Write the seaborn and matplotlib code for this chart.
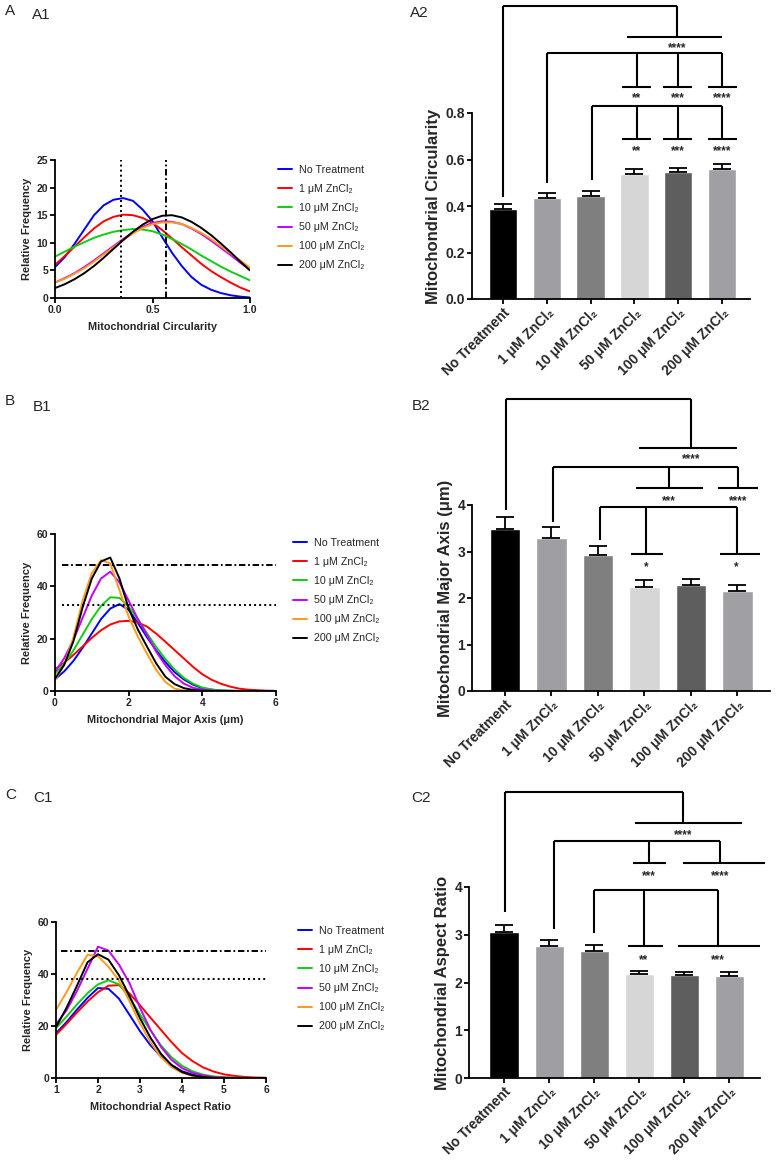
import numpy as np
import pandas as pd
import matplotlib
matplotlib.use("Agg")
import matplotlib.pyplot as plt
import matplotlib.ticker as mticker
import seaborn as sns

# ---------------- data ----------------
GROUPS = ["No Treatment", "1 μM ZnCl₂", "10 μM ZnCl₂", "50 μM ZnCl₂",
          "100 μM ZnCl₂", "200 μM ZnCl₂"]
LINE_COLORS = ["#0000ff", "#ff0000", "#11cc11", "#c400ff", "#ff9a1a", "#000000"]
BAR_COLORS = ["#000000", "#9f9fa3", "#7f7f7f", "#d6d6d6", "#5e5e5e", "#a0a0a4"]

# A1 - circularity distribution
circ_x = [0.0, 0.05, 0.1, 0.15, 0.2, 0.25, 0.3, 0.35, 0.4, 0.45, 0.5,
          0.55, 0.6, 0.65, 0.7, 0.75, 0.8, 0.85, 0.9, 0.95, 1.0]
circ_none = [5.6, 7.4, 9.8, 12.4, 15.0, 16.8, 17.8, 18.1, 17.6, 16.0, 13.9,
             11.0, 8.2, 5.8, 3.8, 2.4, 1.5, 0.9, 0.5, 0.25, 0.1]
circ_1 = [6.0, 7.6, 9.3, 11.0, 12.6, 13.9, 14.7, 15.1, 15.0, 14.5, 13.6,
          12.3, 10.8, 9.2, 7.7, 6.2, 4.9, 3.8, 2.8, 1.9, 1.2]
circ_10 = [7.5, 8.4, 9.3, 10.1, 10.9, 11.5, 12.0, 12.3, 12.5, 12.4, 12.1,
           11.5, 10.7, 9.8, 8.8, 7.7, 6.7, 5.7, 4.8, 4.0, 3.2]
circ_50 = [2.8, 3.6, 4.5, 5.6, 6.8, 8.1, 9.4, 10.7, 11.9, 12.9, 13.6,
           13.9, 13.8, 13.4, 12.6, 11.6, 10.4, 9.1, 7.8, 6.4, 5.1]
circ_100 = [2.8, 3.5, 4.4, 5.4, 6.6, 7.9, 9.2, 10.5, 11.7, 12.7, 13.4,
            13.7, 13.7, 13.4, 12.7, 11.8, 10.7, 9.4, 8.1, 6.8, 5.5]
circ_200 = [1.8, 2.5, 3.4, 4.5, 5.8, 7.3, 8.9, 10.5, 12.0, 13.3, 14.3,
            14.9, 15.0, 14.6, 13.8, 12.7, 11.4, 9.9, 8.3, 6.6, 5.0]

# B1 - major axis distribution
axis_x = [0.0, 0.25, 0.5, 0.75, 1.0, 1.25, 1.5, 1.75, 2.0, 2.25, 2.5, 2.75, 3.0,
          3.25, 3.5, 3.75, 4.0, 4.25, 4.5, 4.75, 5.0, 5.25, 5.5, 5.75, 6.0]
axis_none = [4.5, 7.5, 11.5, 16.5, 22.0, 27.5, 31.5, 33.2, 31.0, 26.0, 20.5, 15.5, 11.0,
             7.2, 4.4, 2.4, 1.1, 0.5, 0.2, 0.08, 0.03, 0, 0, 0, 0]
axis_1 = [8.3, 10.8, 13.8, 17.0, 20.3, 23.2, 25.4, 26.6, 26.8, 26.2, 24.6, 21.9, 18.8,
          15.6, 12.4, 9.2, 6.4, 4.3, 2.8, 1.7, 0.9, 0.5, 0.3, 0.12, 0.05]
axis_10 = [6.6, 10.5, 15.5, 21.5, 27.5, 32.5, 35.8, 35.6, 32.2, 27.5, 22.0, 16.8, 12.2,
           8.2, 5.0, 2.8, 1.3, 0.6, 0.2, 0.08, 0.03, 0, 0, 0, 0]
axis_50 = [7.3, 12.5, 19.5, 28.0, 36.5, 43.0, 45.6, 41.5, 34.5, 27.5, 21.3, 15.0, 9.8,
           5.6, 2.8, 1.2, 0.5, 0.2, 0.06, 0, 0, 0, 0, 0, 0]
axis_100 = [4.1, 10.0, 20.5, 34.5, 45.0, 50.0, 48.8, 38.5, 28.4, 20.8, 14.2, 8.0, 3.4,
            0.9, 0.2, 0.05, 0, 0, 0, 0, 0, 0, 0, 0, 0]
axis_200 = [4.7, 10.0, 19.0, 32.0, 43.0, 49.5, 51.0, 43.0, 31.5, 23.5, 16.9, 10.5, 5.4,
            2.6, 1.1, 0.4, 0.1, 0.03, 0, 0, 0, 0, 0, 0, 0]

# C1 - aspect ratio distribution
ar_x = [1.0, 1.25, 1.5, 1.75, 2.0, 2.25, 2.5, 2.75, 3.0, 3.25, 3.5,
        3.75, 4.0, 4.25, 4.5, 4.75, 5.0, 5.25, 5.5, 5.75, 6.0]
ar_none = [17.2, 21.5, 26.3, 30.8, 34.6, 34.3, 30.5, 24.3, 18.0, 12.6, 8.3,
           5.0, 2.6, 1.3, 0.5, 0.2, 0.08, 0.03, 0.01, 0, 0]
ar_1 = [16.6, 20.8, 25.2, 29.4, 33.0, 35.5, 35.7, 32.5, 28.0, 23.2, 18.5,
        13.8, 9.6, 6.5, 4.1, 2.5, 1.4, 0.8, 0.4, 0.2, 0.1]
ar_10 = [19.2, 23.6, 28.3, 32.6, 36.0, 37.6, 36.0, 31.0, 24.5, 18.3, 12.5,
         8.0, 4.7, 2.6, 1.3, 0.6, 0.25, 0.1, 0.04, 0.01, 0]
ar_50 = [20.7, 26.0, 33.5, 42.0, 50.5, 49.0, 43.6, 36.5, 27.0, 18.5, 12.0,
         7.0, 3.8, 2.0, 1.0, 0.4, 0.15, 0.05, 0.02, 0, 0]
ar_100 = [26.2, 33.0, 40.5, 47.4, 46.8, 42.8, 37.5, 29.5, 21.0, 13.8, 8.0,
          4.2, 2.0, 0.8, 0.3, 0.1, 0.03, 0, 0, 0, 0]
ar_200 = [19.5, 27.0, 35.5, 44.5, 47.6, 45.5, 39.5, 31.5, 23.0, 15.5, 9.3,
          5.0, 2.3, 1.0, 0.4, 0.1, 0.03, 0, 0, 0, 0]

# A2 / B2 / C2 - means and SEM
circ_mean = [0.386, 0.433, 0.444, 0.538, 0.545, 0.559]
circ_sem = [0.023, 0.022, 0.022, 0.021, 0.020, 0.020]
major_mean = [3.48, 3.30, 2.92, 2.23, 2.29, 2.16]
major_sem = [0.27, 0.23, 0.20, 0.16, 0.12, 0.13]
ratio_mean = [3.05, 2.76, 2.67, 2.18, 2.16, 2.14]
ratio_sem = [0.16, 0.14, 0.12, 0.07, 0.07, 0.08]

# ---------------- style ----------------
sns.set_style("ticks")
plt.rcParams["font.family"] = ["Liberation Sans", "DejaVu Sans"]
plt.rcParams["font.weight"] = "bold"
plt.rcParams["axes.labelweight"] = "bold"

W, H = 776, 1166
fig = plt.figure(figsize=(W / 100, H / 100), dpi=100)


def rect(x0, y0, x1, y1):
    # pixel box -> figure fraction
    return [x0 / W, 1 - y1 / H, (x1 - x0) / W, (y1 - y0) / H]


def prism(ax, size):
    sns.despine(ax=ax)
    for side in ("left", "bottom"):
        ax.spines[side].set_linewidth(1.3)
        ax.spines[side].set_color("black")
    ax.tick_params(direction="out", length=3.5, width=1.3, color="black",
                   labelsize=size, pad=1.5)


DOT = (0, (1, 1.6))
DASHDOT = (0, (3.3, 1.4, 0.9, 1.4))


def curve_panel(ax, x, curves, xlim, ylim, xticks, yticks, xfmt, xlabel, leg_xy):
    df = pd.DataFrame({
        "x": np.tile(x, len(GROUPS)),
        "freq": np.concatenate(curves),
        "group": np.repeat(GROUPS, len(x)),
    })
    sns.lineplot(data=df, x="x", y="freq", hue="group", hue_order=GROUPS,
                 palette=LINE_COLORS, linewidth=1.4, estimator=None, sort=False, ax=ax)
    ax.set_xlim(xlim)
    ax.set_ylim(ylim)
    ax.set_xticks(xticks)
    ax.set_yticks(yticks)
    ax.xaxis.set_major_formatter(mticker.FormatStrFormatter(xfmt))
    ax.set_xlabel(xlabel, fontsize=7.8, labelpad=5)
    ax.set_ylabel("Relative Frequency", fontsize=8, labelpad=3)
    prism(ax, 7.5)
    handles, labels = ax.get_legend_handles_labels()
    ax.legend(handles, labels, loc="upper left",
              bbox_to_anchor=(leg_xy[0] / W, 1 - leg_xy[1] / H),
              bbox_transform=fig.transFigure, frameon=False,
              prop={"size": 7.7, "weight": "normal"}, handlelength=1.3,
              handletextpad=0.7, labelspacing=0.85, borderpad=0, borderaxespad=0)


def bar_panel(ax, means, sems, xlim, ylim, yticks, yfmt, ylabel):
    sns.barplot(x=GROUPS, y=means, hue=GROUPS, order=GROUPS, hue_order=GROUPS,
                palette=BAR_COLORS, saturation=1, width=0.65, legend=False,
                errorbar=None, ax=ax)
    ax.errorbar(np.arange(len(means)), means, yerr=[np.zeros(len(sems)), sems],
                fmt="none", ecolor="black", elinewidth=1.3, capsize=6.5, capthick=1.3)
    ax.set_xlim(xlim)
    ax.set_ylim(ylim)
    ax.set_yticks(yticks)
    ax.yaxis.set_major_formatter(mticker.FormatStrFormatter(yfmt))
    ax.set_xticks(range(len(GROUPS)))
    ax.set_xticklabels(GROUPS, rotation=45, ha="right", rotation_mode="anchor")
    ax.set_xlabel("")
    ax.set_ylabel(ylabel, fontsize=12, labelpad=3)
    prism(ax, 10)


def comb(ax, src, y0, y1, drops):
    kw = dict(color="black", lw=1.5, clip_on=False, solid_capstyle="butt")
    ax.plot([src, src], [y0, y1], **kw)
    ax.plot([src, max(d[0] for d in drops)], [y1, y1], **kw)
    for xd, y2, xl, xr, stars, ys in drops:
        ax.plot([xd, xd], [y1, y2], **kw)
        ax.plot([xl, xr], [y2, y2], **kw)
        ax.annotate(stars, xy=(xd, ys), xytext=(0, -5), textcoords="offset points",
                    ha="center", va="baseline", fontsize=8.5, annotation_clip=False)


# ---------------- A ----------------
ax = fig.add_axes(rect(55, 160, 250, 298))
curve_panel(ax, circ_x, [circ_none, circ_1, circ_10, circ_50, circ_100, circ_200],
            (0, 1), (0, 25), [0, 0.5, 1.0], range(0, 26, 5), "%.1f",
            "Mitochondrial Circularity", (278, 165))
ax.axvline(0.34, color="black", lw=1.4, ls=DOT)
ax.axvline(0.57, color="black", lw=1.4, ls=DASHDOT)

ax = fig.add_axes(rect(472, 113, 750, 299))
bar_panel(ax, circ_mean, circ_sem, (-0.71, 5.64), (0, 0.8),
          [0, 0.2, 0.4, 0.6, 0.8], "%.1f", "Mitochondrial Circularity")
comb(ax, 0.0, 0.44, 1.26, [(3.97, 1.126, 2.84, 5.0, "****", 1.095)])
comb(ax, 1.01, 0.50, 1.057, [(3.05, 0.912, 2.72, 3.38, "**", 0.88),
                             (4.0, 0.912, 3.66, 4.32, "***", 0.88),
                             (5.0, 0.912, 4.67, 5.34, "****", 0.88)])
comb(ax, 2.04, 0.512, 0.83, [(3.05, 0.688, 2.72, 3.38, "**", 0.655),
                             (4.0, 0.688, 3.66, 4.32, "***", 0.655),
                             (5.0, 0.688, 4.67, 5.34, "****", 0.655)])

# ---------------- B ----------------
ax = fig.add_axes(rect(55, 534, 276, 691))
curve_panel(ax, axis_x, [axis_none, axis_1, axis_10, axis_50, axis_100, axis_200],
            (0, 6), (0, 60), [0, 2, 4, 6], [0, 20, 40, 60], "%d",
            "Mitochondrial Major Axis (μm)", (293, 538))
ax.hlines(48, 0.18, 6, color="black", lw=1.4, linestyles=[DASHDOT])
ax.hlines(33, 0.18, 6, color="black", lw=1.4, linestyles=[DOT])

ax = fig.add_axes(rect(472, 505, 770, 691))
bar_panel(ax, major_mean, major_sem, (-0.71, 5.70), (0, 4), [0, 1, 2, 3, 4], "%d",
          "Mitochondrial Major Axis (μm)")
comb(ax, 0.02, 3.89, 6.28, [(4.0, 5.23, 2.89, 5.0, "****", 5.08)])
comb(ax, 1.04, 3.64, 4.81, [(3.53, 4.37, 2.82, 4.25, "***", 4.16),
                            (5.02, 4.37, 4.59, 5.45, "****", 4.16)])
comb(ax, 2.04, 3.25, 3.96, [(3.03, 2.95, 2.71, 3.39, "*", 2.75),
                            (4.98, 2.95, 4.62, 5.48, "*", 2.75)])

# ---------------- C ----------------
ax = fig.add_axes(rect(56, 922, 266, 1078))
curve_panel(ax, ar_x, [ar_none, ar_1, ar_10, ar_50, ar_100, ar_200],
            (1, 6), (0, 60), [1, 2, 3, 4, 5, 6], [0, 20, 40, 60], "%d",
            "Mitochondrial Aspect Ratio", (298, 926))
ax.hlines(49, 1.12, 6, color="black", lw=1.4, linestyles=[DASHDOT])
ax.hlines(38, 1.12, 6, color="black", lw=1.4, linestyles=[DOT])

ax = fig.add_axes(rect(469, 887, 760, 1078))
bar_panel(ax, ratio_mean, ratio_sem, (-0.78, 5.68), (0, 4), [0, 1, 2, 3, 4], "%d",
          "Mitochondrial Aspect Ratio")
comb(ax, 0.03, 3.47, 6.0, [(3.97, 5.35, 2.91, 5.29, "****", 5.17)])
comb(ax, 1.1, 3.11, 4.96, [(3.22, 4.5, 2.85, 3.59, "***", 4.31),
                           (4.79, 4.5, 3.97, 5.78, "****", 4.31)])
comb(ax, 2.0, 3.04, 3.94, [(3.1, 2.76, 2.76, 3.52, "**", 2.55),
                           (4.75, 2.76, 3.86, 5.67, "***", 2.55)])

# panel letters
for txt, x, y in [("A", 5, 11), ("A1", 32, 15), ("A2", 410, 13),
                  ("B", 5, 401), ("B1", 33, 407), ("B2", 412, 406),
                  ("C", 5, 795), ("C1", 33, 798), ("C2", 411, 798)]:
    fig.text(x / W, 1 - y / H, txt, fontsize=11, fontweight="normal",
             ha="left", va="center")

fig.savefig("out.png", dpi=100, facecolor="white")
